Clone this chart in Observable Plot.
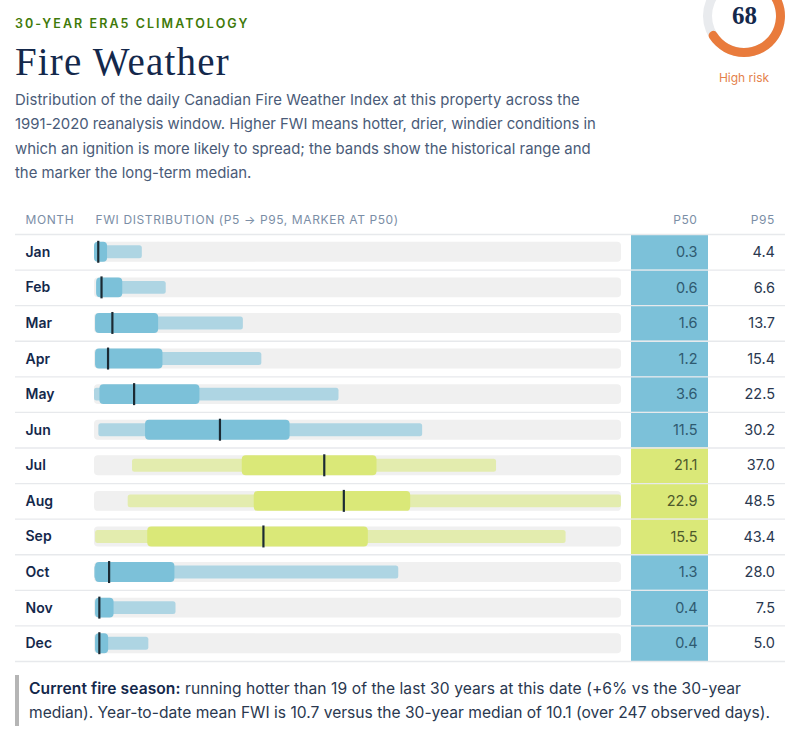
<!DOCTYPE html>
<html><head><meta charset="utf-8">
<script src="https://cdn.jsdelivr.net/npm/d3@7"></script>
<script src="https://cdn.jsdelivr.net/npm/@observablehq/plot@0.6"></script>
<style>
html,body{margin:0;padding:0;background:#fff}
body{width:805px;height:735px;position:relative;overflow:hidden;font-family:Inter,sans-serif;color:#14284b}
.abs{position:absolute;white-space:nowrap}
svg{display:block}
#eyebrow{left:15px;top:16px;font-size:12.5px;font-weight:600;letter-spacing:.165em;color:#3f7a0a;line-height:16px}
#title{left:15px;top:38px;font-family:"Liberation Serif",serif;font-size:39px;line-height:48px;color:#14284b;letter-spacing:.03em}
.intro{left:15px;font-size:14.9px;line-height:24px;color:#4a5b78}
.intro:nth-child(1){letter-spacing:.07px}
.intro:nth-child(2){letter-spacing:-.035px}
.note{left:29px;font-size:15.6px;line-height:24px;color:#2a3850}
.note b{color:#14284b;font-weight:600}
#noteBar{left:15px;top:675px;width:3.5px;height:51px;background:#b5b5b5}
#risk{left:694px;width:100px;text-align:center;top:70px;font-size:12px;line-height:16px;color:#e4814a}
#bars{left:0;top:204px}
#vals{left:631px;top:204px}
#gauge{left:699px;top:-29px}
</style></head><body>
<div class="abs" id="eyebrow">30-YEAR ERA5 CLIMATOLOGY</div>
<div class="abs" id="title">Fire Weather</div>
<div id="intro"></div>
<div class="abs" id="bars"></div>
<div class="abs" id="vals"></div>
<div class="abs" id="gauge"></div>
<div class="abs" id="risk">High risk</div>
<div class="abs" id="noteBar"></div>
<div class="abs note" style="top:677px;letter-spacing:.07px"><b>Current fire season:</b> running hotter than 19 of the last 30 years at this date (+6% vs the 30-year</div>
<div class="abs note" style="top:701px">median). Year-to-date mean FWI is 10.7 versus the 30-year median of 10.1 (over 247 observed days).</div>
<script>
const months = ["Jan","Feb","Mar","Apr","May","Jun","Jul","Aug","Sep","Oct","Nov","Dec"];
const p5  = [0,0.2,0.1,0.1,0,0.4,3.5,3.1,0.1,0,0.1,0.1];
const p25 = [0,0.2,0.1,0.1,0.5,4.7,13.6,14.7,4.9,0.1,0.1,0.1];
const p50 = [0.3,0.6,1.6,1.2,3.6,11.5,21.1,22.9,15.5,1.3,0.4,0.4];
const p75 = [1.2,2.6,5.9,6.3,9.7,18.0,26.0,29.1,25.2,7.4,1.8,1.3];
const p95 = [4.4,6.6,13.7,15.4,22.5,30.2,37.0,48.5,43.4,28.0,7.5,5.0];
const xMax = 48.5;
const hotThreshold = 15;
const columns = ["P50","P95"];
const headers = ["MONTH","FWI DISTRIBUTION (P5 → P95, MARKER AT P50)"];
const riskScore = 68;
const riskMax = 100;
const introLines = [
 "Distribution of the daily Canadian Fire Weather Index at this property across the",
 "1991-2020 reanalysis window. Higher FWI means hotter, drier, windier conditions in",
 "which an ignition is more likely to spread; the bands show the historical range and",
 "the marker the long-term median."];

const rows = months.map((m,i)=>({m,p5:p5[i],p25:p25[i],p50:p50[i],p75:p75[i],p95:p95[i],hot:p50[i]>=hotThreshold}));
const font = "Inter,sans-serif";
const line = "#e7e9ec";
const hdr = "#7b8ea6";

introLines.forEach((t,i)=>{
  const d=document.createElement("div");
  d.className="abs intro"; d.style.top=(88+i*24.4)+"px"; d.textContent=t;
  document.getElementById("intro").appendChild(d);
});

const common = {height:459,marginTop:30,marginBottom:2,marginRight:0,
  style:{fontFamily:font,background:"transparent",overflow:"visible"}};
const yScale = {domain:months,padding:0,round:false,axis:null};
const hdrText = {fill:hdr,fontSize:12,fontWeight:400,lineAnchor:"middle",dy:-14};

const spaceHeaders = (svg)=>{
  const names=new Set([...headers,...columns]);
  d3.select(svg).selectAll("text").filter(function(){return names.has(this.textContent);}).style("letter-spacing","0.6px");
};

const bars = Plot.plot({...common,width:631,marginLeft:15,
  x:{domain:[0,xMax],range:[94,621],axis:null},
  y:yScale,
  marks:[
    Plot.barX(rows,{y:"m",x1:()=>0,x2:()=>xMax,fill:"#f0f0f0",rx:4,insetTop:7.8,insetBottom:7.8}),
    Plot.barX(rows,{y:"m",x1:"p5",x2:"p95",fill:d=>d.hot?"#e3ecae":"#aed5e3",rx:2.5,insetTop:11.3,insetBottom:11.3}),
    Plot.barX(rows,{y:"m",x1:"p25",x2:"p75",fill:d=>d.hot?"#dae878":"#7cc1d9",rx:4,insetTop:7.8,insetBottom:7.8}),
    Plot.tickX(rows,{y:"m",x:"p50",dx:0.5,stroke:"#1b2a33",strokeWidth:2.2,insetTop:6.8,insetBottom:6.8}),
    Plot.text(rows,{y:"m",text:"m",frameAnchor:"left",dx:10,fill:"#14284b",fontSize:14,fontWeight:600}),
    Plot.ruleY(months,{y:d=>d,dy:17.79,stroke:line,strokeWidth:1.3}),
    Plot.ruleY(months.slice(0,1),{y:d=>d,dy:-17.79,stroke:line,strokeWidth:1.3}),
    Plot.text([headers[0]],{...hdrText,text:d=>d,frameAnchor:"top-left",dx:10}),
    Plot.text([headers[1]],{...hdrText,text:d=>d,x:()=>0,frameAnchor:"top",textAnchor:"start",dx:1})
  ]});
spaceHeaders(bars);
document.getElementById("bars").appendChild(bars);

const vals = Plot.plot({...common,width:174,marginLeft:0,marginRight:20,
  x:{domain:columns,padding:0,round:false,axis:null},
  y:yScale,
  marks:[
    Plot.cell(rows,{x:()=>"P50",y:"m",fill:d=>d.hot?"#dae878":"#7cc1d9"}),
    Plot.text(rows,{x:()=>"P50",y:"m",text:d=>d3.format(".1f")(d.p50),textAnchor:"end",dx:27.5,fontSize:14.5,fill:d=>d.hot?"#4e5a2c":"#2f5a70"}),
    Plot.text(rows,{x:()=>"P95",y:"m",text:d=>d3.format(".1f")(d.p95),textAnchor:"end",dx:28,fontSize:14.5,fill:"#2a3850"}),
    Plot.ruleY(months,{y:d=>d,dy:17.79,stroke:line,strokeWidth:1.3}),
    Plot.ruleY(months.slice(0,1),{y:d=>d,dy:-17.79,stroke:line,strokeWidth:1.3}),
    ...columns.map(c=>Plot.text([c],{...hdrText,x:d=>d,text:d=>d,frameAnchor:"top",textAnchor:"end",dx:c==="P50"?27.5:28}))
  ]});
spaceHeaders(vals);
document.getElementById("vals").appendChild(vals);

// Score gauge: the arc is scaled from the score through a linear scale.
const angle = d3.scaleLinear([0,riskMax],[0,2*Math.PI]);
const arcMark = (value,color,rounded)=>()=>{
  const a=d3.arc().innerRadius(32).outerRadius(41).cornerRadius(rounded?4.5:0).startAngle(0).endAngle(angle(value));
  return d3.create("svg:path").attr("d",a()).attr("transform","translate(45,45)").attr("fill",color).node();
};
const gauge = Plot.plot({width:90,height:90,margin:0,
  x:{domain:[0,1],axis:null},y:{domain:[0,1],axis:null},
  style:{background:"transparent"},
  marks:[
    arcMark(riskMax,"#e9ebee",false),
    arcMark(riskScore,"#e97b3c",true),
    Plot.text([riskScore],{frameAnchor:"middle",text:d=>String(d),fontSize:25,fontWeight:700,fill:"#14284b",fontFamily:"Liberation Serif",dy:-1})
  ]});
document.getElementById("gauge").appendChild(gauge);
</script>
</body></html>
